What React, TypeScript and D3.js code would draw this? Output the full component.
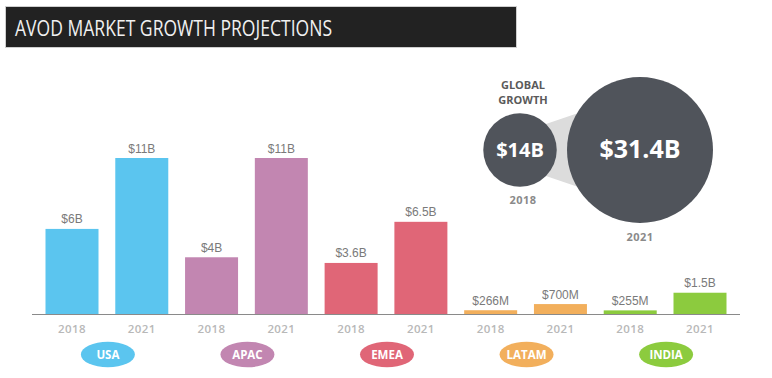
import React from "react";
import * as d3 from "d3";

const regions = ["USA", "APAC", "EMEA", "LATAM", "INDIA"];
const years = ["2018", "2021"];
const values2018 = [6, 4, 3.6, 0.266, 0.255];
const values2021 = [11, 11, 6.5, 0.7, 1.5];
const labels2018 = ["$6B", "$4B", "$3.6B", "$266M", "$255M"];
const labels2021 = ["$11B", "$11B", "$6.5B", "$700M", "$1.5B"];
const regionColors = ["#5BC5EF", "#C286B1", "#E06677", "#F2AF5C", "#8CCB3E"];
const globalValues = [14, 31.4];
const globalLabels = ["$14B", "$31.4B"];
const title = "AVOD MARKET GROWTH PROJECTIONS";

const W = 772;
const H = 378;
const baseY = 314;
const barW = 53;

export default function App() {
  const bars = regions.flatMap((r, i) => [
    { key: r + "-2018", region: r, i, year: years[0], value: values2018[i], label: labels2018[i] },
    { key: r + "-2021", region: r, i, year: years[1], value: values2021[i], label: labels2021[i] },
  ]);
  const x = d3.scalePoint<string>().domain(bars.map((b) => b.key)).range([72, 700]);
  const y = d3.scaleLinear().domain([0, 11]).range([baseY, 158]);
  const rScale = d3.scalePow().exponent(0.85).domain([0, 31.4]).range([0, 73]);

  const c1 = { x: 520, y: 150, r: rScale(globalValues[0]) };
  const c2 = { x: 640, y: 150, r: rScale(globalValues[1]) };
  const a1 = (-45 * Math.PI) / 180;
  const a2 = (-150 * Math.PI) / 180;
  const p = (c: any, a: number) => [c.x + c.r * Math.cos(a), c.y + c.r * Math.sin(a)];
  const tA = p(c1, a1);
  const tB = p(c2, a2);
  const bA = p(c1, -a1);
  const bB = p(c2, -a2);
  const connector = d3.line()([tA, tB, bB, bA] as [number, number][]) + "Z";

  return (
    <svg
      width={W}
      height={H}
      style={{ position: "absolute", left: 0, top: 0, background: "#fff" }}
    >
      {/* title bar */}
      <rect x={5} y={6} width={512} height={42} fill="#cfcfcf" />
      <rect x={6} y={7} width={510} height={40} fill="#222222" />
      <text
        x={15}
        y={36}
        fill="#f0f0f0"
        fontFamily="Open Sans"
        fontSize={22}
        textLength={317}
        lengthAdjust="spacingAndGlyphs"
      >
        {title}
      </text>

      {/* bars */}
      {bars.map((b) => {
        const cx = x(b.key)!;
        const top = y(b.value);
        return (
          <g key={b.key}>
            <rect x={cx - barW / 2} y={top} width={barW} height={baseY - top} fill={regionColors[b.i]} />
            <text
              x={cx}
              y={top - 5.5}
              textAnchor="middle"
              fontFamily="Liberation Sans"
              fontSize={12}
              fill="#7a7a7a"
            >
              {b.label}
            </text>
            <text
              x={cx}
              y={333}
              textAnchor="middle"
              fontFamily="Open Sans"
              fontWeight={600}
              fontSize={11.5}
              letterSpacing={0.4}
              fill="#b8b8b8"
            >
              {b.year}
            </text>
          </g>
        );
      })}
      <line x1={32} x2={740} y1={baseY + 0.5} y2={baseY + 0.5} stroke="#8a8a8a" strokeWidth={1} />

      {/* region ellipses */}
      {regions.map((r, i) => {
        const cx = (x(r + "-2018")! + x(r + "-2021")!) / 2 + 1;
        return (
          <g key={r}>
            <ellipse cx={cx} cy={354.5} rx={27} ry={12.8} fill={regionColors[i]} />
            <text
              x={cx}
              y={358.5}
              textAnchor="middle"
              fontFamily="Open Sans"
              fontWeight={700}
              fontSize={11.5}
              fill="#ffffff"
            >
              {r}
            </text>
          </g>
        );
      })}

      {/* global growth */}
      <path d={connector} fill="#dcdcdc" />
      <circle cx={c1.x} cy={c1.y} r={c1.r} fill="#50545b" />
      <circle cx={c2.x} cy={c2.y} r={c2.r} fill="#50545b" />
      <text x={c1.x} y={156.5} textAnchor="middle" fontFamily="Open Sans" fontWeight={700} fontSize={20} fill="#fff">
        {globalLabels[0]}
      </text>
      <text x={c2.x} y={157.5} textAnchor="middle" fontFamily="Open Sans" fontWeight={700} fontSize={25} fill="#fff">
        {globalLabels[1]}
      </text>
      <text x={523} y={89} textAnchor="middle" fontFamily="Open Sans" fontWeight={700} fontSize={11} fill="#5a5a5a">
        GLOBAL
      </text>
      <text x={523} y={104} textAnchor="middle" fontFamily="Open Sans" fontWeight={700} fontSize={11} fill="#5a5a5a">
        GROWTH
      </text>
      <text x={523} y={204} textAnchor="middle" fontFamily="Open Sans" fontWeight={700} fontSize={11} letterSpacing={0.4} fill="#8a8a8a">
        {years[0]}
      </text>
      <text x={640} y={241} textAnchor="middle" fontFamily="Open Sans" fontWeight={700} fontSize={11} letterSpacing={0.4} fill="#8a8a8a">
        {years[1]}
      </text>
    </svg>
  );
}
